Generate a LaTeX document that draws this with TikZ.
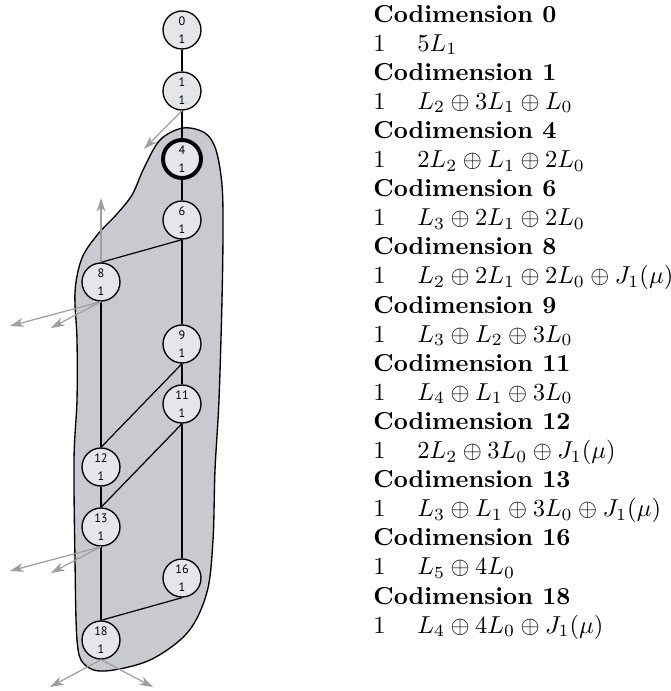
\documentclass[tikz,border=0pt]{standalone}
\usepackage{fontspec}
\newfontfamily\nodefont{PT Sans}
\usetikzlibrary{arrows.meta}
\definecolor{blobgray}{RGB}{200,202,208}
\definecolor{nodegray}{RGB}{228,230,234}
\definecolor{arrgray}{RGB}{158,158,158}
\tikzset{
  state/.style={circle, draw, fill=nodegray, line width=0.55pt, minimum size=15.5pt, inner sep=0pt,
    font=\nodefont\fontsize{5}{7.3}\selectfont, align=center},
  thickstate/.style={state, line width=1.6pt},
  edge/.style={line width=0.5pt},
  garrow/.style={draw=arrgray, line width=0.5pt, -{Stealth[length=5.5pt,width=3.6pt,inset=1.6pt]}, arrgray},
  blob/.style={draw, fill=blobgray, line width=0.55pt},
  txt/.style={anchor=base west, inner sep=0pt}
}
\begin{document}
\begin{tikzpicture}[x=0.408pt,y=-0.408pt]
\useasboundingbox (0,0) rectangle (671,691);
% gray region
\draw[blob] plot[smooth cycle, tension=0.55] coordinates {
 (183,128) (205,133) (216,150) (222,185) (223,230) (222,300) (219,400) (215,470)
 (213,540) (207,592) (188,632) (150,660) (105,671) (84,664) (77,640) (75,560)
 (74,460) (77,400) (77,340) (75,292) (82,258) (98,234) (116,215) (132,195)
 (144,168) (160,140)};
% nodes
\node[state] (n0) at (182,30) {0\\1};
\node[state] (n1) at (182,91) {1\\1};
\node[thickstate] (n4) at (182,159) {4\\1};
\node[state] (n6) at (182,220) {6\\1};
\node[state] (n8) at (101,282) {8\\1};
\node[state] (n9) at (182,344) {9\\1};
\node[state] (n11) at (182,404) {11\\1};
\node[state] (n12) at (101,467) {12\\1};
\node[state] (n13) at (101,527) {13\\1};
\node[state] (n16) at (182,578) {16\\1};
\node[state] (n18) at (101,640) {18\\1};
% edges
\draw[edge] (n0.south) -- (n1.north);
\draw[edge] (n1.south) -- (n4.north);
\draw[edge] (n4.south) -- (n6.north);
\draw[edge] (n6.south) -- (n9.north);
\draw[edge] (n6.south) -- (n8.north);
\draw[edge] (n8.south) -- (n12.north);
\draw[edge] (n9.south) -- (n11.north);
\draw[edge] (n9.south) -- (n12.north);
\draw[edge] (n11.south) -- (n16.north);
\draw[edge] (n11.south) -- (n13.north);
\draw[edge] (n12.south) -- (n13.north);
\draw[edge] (n13.south) -- (n18.north);
\draw[edge] (n16.south) -- (n18.north);
% gray arrows
\coordinate (a1) at (144,149);
\coordinate (a8u) at (101,198);
\coordinate (a8l) at (10,326);
\coordinate (a8r) at (51,328);
\coordinate (a13l) at (10,571);
\coordinate (a13r) at (51,573);
\coordinate (a18l) at (50,687);
\coordinate (a18r) at (153,687);
\draw[garrow] (n1.south) -- (a1);
\draw[garrow] (n8.north) -- (a8u);
\draw[garrow] (n8.south) -- (a8l);
\draw[garrow] (n8.south) -- (a8r);
\draw[garrow] (n13.south) -- (a13l);
\draw[garrow] (n13.south) -- (a13r);
\draw[garrow] (n18.south) -- (a18l);
\draw[garrow] (n18.south) -- (a18r);
% text
\foreach \c/\f [count=\i from 0] in {
  0/{5L_1},
  1/{L_2\oplus 3L_1\oplus L_0},
  4/{2L_2\oplus L_1\oplus 2L_0},
  6/{L_3\oplus 2L_1\oplus 2L_0},
  8/{L_2\oplus 2L_1\oplus 2L_0\oplus J_1(\mu)},
  9/{L_3\oplus L_2\oplus 3L_0},
  11/{L_4\oplus L_1\oplus 3L_0},
  12/{2L_2\oplus 3L_0\oplus J_1(\mu)},
  13/{L_3\oplus L_1\oplus 3L_0\oplus J_1(\mu)},
  16/{L_5\oplus 4L_0},
  18/{L_4\oplus 4L_0\oplus J_1(\mu)}} {
  \pgfmathsetmacro{\yh}{22+58.2*\i}
  \pgfmathsetmacro{\yf}{22+58.2*\i+29.1}
  \node[txt] (h\i) at (373,\yh) {\textbf{Codimension \c}};
  \node[txt] (o\i) at (373,\yf) {1};
  \node[txt] (f\i) at (417,\yf) {$\f$};
}
\end{tikzpicture}
\end{document}
